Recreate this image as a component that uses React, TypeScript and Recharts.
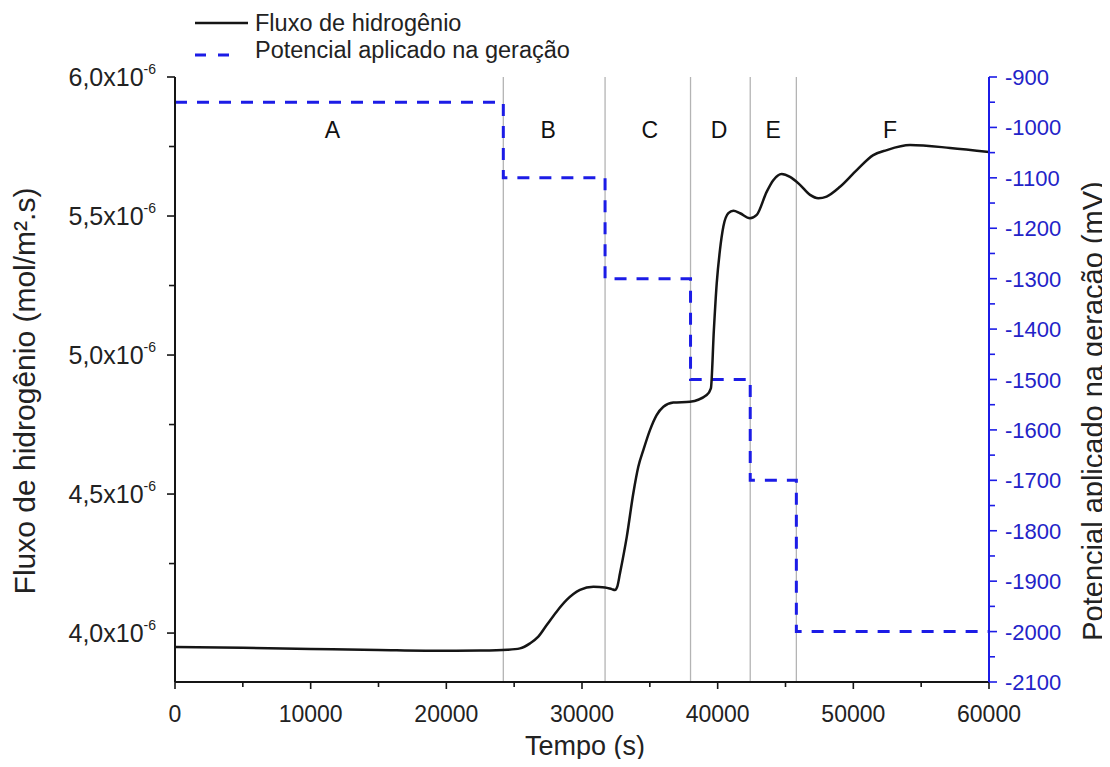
import React from 'react';
import { LineChart, Line, XAxis, YAxis, ReferenceLine, ReferenceDot, Label } from 'recharts';

const FONT = '"Liberation Sans", Arial, Helvetica, sans-serif';
const BLUE = '#1c1ce6';
const BLUE_TEXT = '#2323c8';
const INK = '#151515';

// Flux of hydrogen (mol/m².s) vs time (s)
const fluxTime = [
  0, 5000, 10000, 15000, 20000, 22500, 24500, 25430, 26170, 26780, 27400, 28130, 28870, 29850,
  30840, 31700, 32190, 32430, 32600, 32800, 33300, 33780, 34150, 34520, 35010, 35500, 36000,
  36730, 37960, 39190, 39500, 39720, 39930, 40170, 40420, 40790, 41160, 41650, 42380, 42880,
  43610, 44100, 44720, 45330, 46070, 46810, 47420, 48030, 49020, 50250, 51470, 52460, 54180,
  57130, 60000,
];
const fluxValue = [
  3.950e-6, 3.947e-6, 3.943e-6, 3.939e-6, 3.936e-6, 3.937e-6, 3.940e-6, 3.945e-6, 3.963e-6,
  3.987e-6, 4.029e-6, 4.077e-6, 4.119e-6, 4.155e-6, 4.167e-6, 4.164e-6, 4.158e-6, 4.155e-6,
  4.167e-6, 4.215e-6, 4.346e-6, 4.502e-6, 4.598e-6, 4.658e-6, 4.730e-6, 4.784e-6, 4.814e-6,
  4.829e-6, 4.832e-6, 4.856e-6, 4.880e-6, 5.090e-6, 5.258e-6, 5.378e-6, 5.462e-6, 5.510e-6,
  5.519e-6, 5.510e-6, 5.492e-6, 5.504e-6, 5.587e-6, 5.629e-6, 5.651e-6, 5.641e-6, 5.612e-6,
  5.576e-6, 5.564e-6, 5.570e-6, 5.605e-6, 5.665e-6, 5.719e-6, 5.737e-6, 5.755e-6, 5.745e-6,
  5.730e-6,
];

// Applied potential (mV) vs time (s)
const potTime = [0, 24200, 24200, 31700, 31700, 38000, 38000, 42400, 42400, 45800, 45800, 60000];
const potValue = [-950, -950, -1100, -1100, -1300, -1300, -1500, -1500, -1700, -1700, -2000, -2000];

// Regions
const regionBounds = [24200, 31700, 38000, 42400, 45800];
const regionLabels = ['A', 'B', 'C', 'D', 'E', 'F'];
const regionLabelTime = [11600, 27500, 35000, 40100, 44100, 52700];
const regionLabelFlux = 5.81e-6;

// Axes
const xTicks = [0, 5000, 10000, 15000, 20000, 25000, 30000, 35000, 40000, 45000, 50000, 55000, 60000];
const leftTicks = [4.0e-6, 4.25e-6, 4.5e-6, 4.75e-6, 5.0e-6, 5.25e-6, 5.5e-6, 5.75e-6, 6.0e-6];
const rightTicks = [
  -2100, -2050, -2000, -1950, -1900, -1850, -1800, -1750, -1700, -1650, -1600, -1550, -1500,
  -1450, -1400, -1350, -1300, -1250, -1200, -1150, -1100, -1050, -1000, -950, -900,
];

const fluxData = fluxTime.map((t, i) => ({ t, flux: fluxValue[i] }));
const potData = potTime.map((t, i) => ({ t, pot: potValue[i] }));

const BottomTick = (props: any) => {
  const { x, y, payload } = props;
  const v = payload.value as number;
  const major = v % 10000 === 0;
  return (
    <g>
      <line x1={x} x2={x} y1={y} y2={y + (major ? 7 : 5)} stroke={INK} strokeWidth={1.6} />
      {major && (
        <text x={x} y={y + 40} textAnchor="middle" fontSize={23} fill="#222" fontFamily={FONT}>
          {v}
        </text>
      )}
    </g>
  );
};

const TopTick = (props: any) => {
  const { x, y } = props;
  return <line x1={x} x2={x} y1={y} y2={y + 6} stroke={INK} strokeWidth={1.6} />;
};

const LeftTick = (props: any) => {
  const { x, y, payload } = props;
  const m = (payload.value as number) * 1e6;
  const major = Math.abs(m * 2 - Math.round(m * 2)) < 1e-6;
  return (
    <g>
      <line x1={x - (major ? 8 : 6)} x2={x} y1={y} y2={y} stroke={INK} strokeWidth={1.6} />
      {major && (
        <text x={x - 19} y={y + 9} textAnchor="end" fontSize={25} fill="#222" fontFamily={FONT}>
          <tspan>{m.toFixed(1).replace('.', ',') + 'x10'}</tspan>
          <tspan dy={-12} fontSize={14}>-6</tspan>
        </text>
      )}
    </g>
  );
};

const RightTick = (props: any) => {
  const { x, y, payload } = props;
  const v = payload.value as number;
  const major = v % 100 === 0;
  return (
    <g>
      <line x1={x} x2={x + (major ? 8 : 6)} y1={y} y2={y} stroke={BLUE} strokeWidth={1.6} />
      {major && (
        <text x={x + 16} y={y + 8} textAnchor="start" fontSize={22} fill={BLUE_TEXT} fontFamily={FONT}>
          {v}
        </text>
      )}
    </g>
  );
};

export default function App() {
  return (
    <div style={{ position: 'relative', width: 1102, height: 751 }}>
      <style>{'.recharts-surface { overflow: visible; } .recharts-wrapper { overflow: visible; }'}</style>
      <LineChart width={1102} height={751} margin={{ top: 69, right: 0, bottom: 0, left: 0 }}>
        <XAxis
          xAxisId="main"
          dataKey="t"
          type="number"
          domain={[0, 60000]}
          ticks={xTicks}
          interval={0}
          height={77}
          tickSize={0}
          tickMargin={0}
          tickLine={false}
          tick={<BottomTick />}
          axisLine={{ stroke: INK, strokeWidth: 2 }}
          allowDataOverflow
        >
          <Label
            content={(p: any) => {
              const vb = p.viewBox;
              return (
                <text x={vb.x + vb.width / 2 + 3} y={vb.y + 73} textAnchor="middle" fontSize={27} fill="#222" fontFamily={FONT}>
                  Tempo (s)
                </text>
              );
            }}
          />
        </XAxis>
        <XAxis
          xAxisId="top"
          dataKey="t"
          type="number"
          orientation="top"
          domain={[0, 60000]}
          ticks={xTicks}
          interval={0}
          height={0}
          tickSize={0}
          tickMargin={0}
          tickLine={false}
          tick={<TopTick />}
          axisLine={{ stroke: INK, strokeWidth: 2 }}
          allowDataOverflow
        />
        <YAxis
          yAxisId="left"
          type="number"
          domain={[3.824e-6, 6.0e-6]}
          ticks={leftTicks}
          interval={0}
          width={167}
          tickSize={0}
          tickMargin={0}
          tickLine={false}
          tick={<LeftTick />}
          axisLine={{ stroke: INK, strokeWidth: 2 }}
          allowDataOverflow
        >
          <Label
            content={() => (
              <text x={27} y={383} transform="rotate(-90, 27, 383)" textAnchor="middle" fontSize={30} fill="#222" fontFamily={FONT}>
                Fluxo de hidrogênio (mol/m².s)
              </text>
            )}
          />
        </YAxis>
        <YAxis
          yAxisId="right"
          orientation="right"
          type="number"
          domain={[-2100, -900]}
          ticks={rightTicks}
          interval={0}
          width={121}
          tickSize={0}
          tickMargin={0}
          tickLine={false}
          tick={<RightTick />}
          axisLine={{ stroke: BLUE, strokeWidth: 2 }}
          allowDataOverflow
        >
          <Label
            content={() => (
              <text x={1095} y={403} transform="rotate(-90, 1095, 403)" textAnchor="middle" fontSize={29} fill="#222" fontFamily={FONT}>
                Potencial aplicado na geração (mV)
              </text>
            )}
          />
        </YAxis>

        {regionBounds.map((b) => (
          <ReferenceLine key={b} x={b} xAxisId="main" yAxisId="left" stroke="#b4b4b4" strokeWidth={1.3} />
        ))}
        {regionLabels.map((lab, i) => (
          <ReferenceDot
            key={lab}
            x={regionLabelTime[i]}
            y={regionLabelFlux}
            xAxisId="main"
            yAxisId="left"
            r={0}
            fill="none"
            stroke="none"
            label={{ value: lab, position: 'center', fontSize: 23, fill: '#111', fontFamily: FONT }}
          />
        ))}

        <Line
          data={potData}
          dataKey="pot"
          xAxisId="main"
          yAxisId="right"
          type="linear"
          stroke={BLUE}
          strokeWidth={3}
          strokeDasharray="12 10"
          dot={false}
          activeDot={false}
          isAnimationActive={false}
        />
        <Line
          data={fluxData}
          dataKey="flux"
          xAxisId="main"
          yAxisId="left"
          type="monotone"
          stroke={INK}
          strokeWidth={2.5}
          dot={false}
          activeDot={false}
          isAnimationActive={false}
        />
      </LineChart>

      <svg
        width={600}
        height={66}
        style={{ position: 'absolute', left: 0, top: 0, overflow: 'visible' }}
      >
        <line x1={187} x2={240} y1={15} y2={15} stroke={INK} strokeWidth={2.5} />
        <text x={247} y={23} fontSize={23.5} fill="#222" fontFamily={FONT}>
          Fluxo de hidrogênio
        </text>
        <line x1={187} x2={229} y1={47} y2={47} stroke={BLUE} strokeWidth={3} strokeDasharray="11 12" />
        <text x={247} y={50} fontSize={23.5} fill="#222" fontFamily={FONT}>
          Potencial aplicado na geração
        </text>
      </svg>
    </div>
  );
}
